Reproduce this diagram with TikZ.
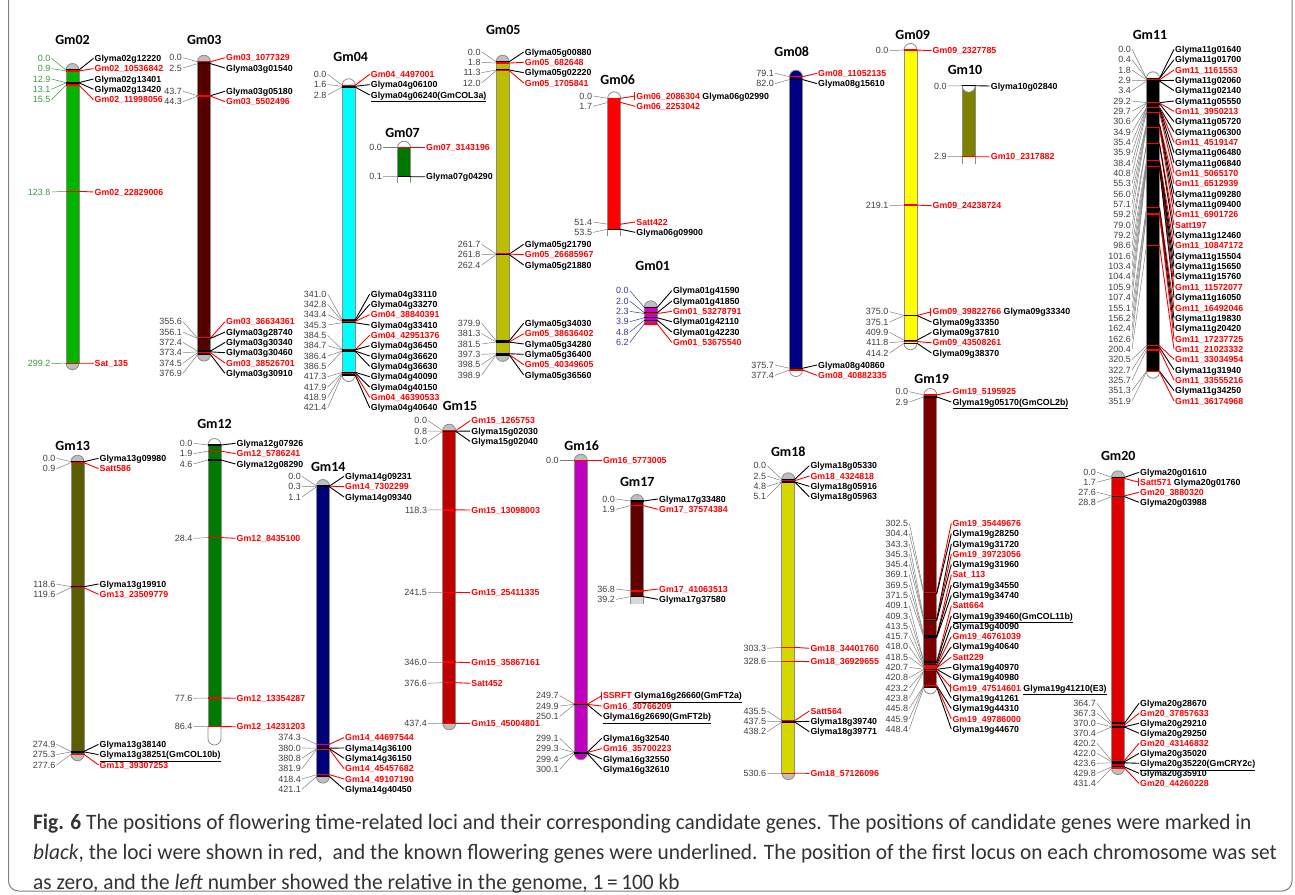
\documentclass[tikz,border=0pt]{standalone}
\usepackage{fontspec}
\setmainfont{Liberation Sans}
\newfontfamily\labfont{Liberation Sans}
\newfontfamily\ttlfont{Carlito}
\newfontfamily\capfont[FakeStretch=0.97]{Carlito}
\definecolor{numc}{HTML}{404040}
\definecolor{numl}{HTML}{808080}
\definecolor{outl}{HTML}{8C8C8C}
\definecolor{capg}{HTML}{BEBEBE}
\definecolor{gnum}{HTML}{3C9A3C}
\definecolor{bnum}{HTML}{3A3A9A}
\definecolor{capt}{HTML}{333333}
\definecolor{lgr}{HTML}{D8D8D8}
\definecolor{c01}{HTML}{CC00CC}
\definecolor{c02}{HTML}{00B400}
\definecolor{c03}{HTML}{550000}
\definecolor{c04}{HTML}{00FFFF}
\definecolor{c05}{HTML}{BDBD00}
\definecolor{c06}{HTML}{FF0000}
\definecolor{c07}{HTML}{007800}
\definecolor{c08}{HTML}{000080}
\definecolor{c09}{HTML}{FFFF00}
\definecolor{c10}{HTML}{808000}
\definecolor{c11}{HTML}{000000}
\definecolor{c12}{HTML}{007A00}
\definecolor{c13}{HTML}{5C5C00}
\definecolor{c14}{HTML}{000078}
\definecolor{c15}{HTML}{BF0000}
\definecolor{c16}{HTML}{C000C0}
\definecolor{c17}{HTML}{600000}
\definecolor{c18}{HTML}{D6D600}
\definecolor{c19}{HTML}{780000}
\definecolor{c20}{HTML}{DD0000}
\newcommand\numf{\labfont\fontsize{9}{10}\selectfont}
\newcommand\genf{\labfont\bfseries\fontsize{8.8}{10}\selectfont}
\tikzset{
  num/.style={font=\numf, inner xsep=1pt, inner ysep=0pt, text height=6.4pt, text depth=0pt, anchor=east},
  gene/.style={font=\genf, inner xsep=1pt, inner ysep=0pt, text height=6.4pt, text depth=0pt, anchor=west},
  numline/.style={line width=0.5pt},
  gline/.style={line width=0.9pt},
  mline/.style={line width=1.4pt},
  chr/.style={draw=outl, line width=0.8pt},
  ttl/.style={font=\ttlfont\bfseries\fontsize{14}{16}\selectfont, inner sep=0pt},
  capn/.style={font=\capfont\fontsize{22}{26}\selectfont, text=capt, inner sep=0pt, anchor=base west},
}
\newcounter{mk}
\def\hw{6.5}
\def\lstep{10.34}
\def\numcol{numc}\def\numln{numl}
\newcommand\chrom[3]{\def\cx{#1}\def\yz{#2}\def\sc{#3}}
\newcommand\setly[1]{\gdef\ly{#1}}
\newcommand\mk[3]{%
  \stepcounter{mk}%
  \node[num, text=\numcol] (L\themk) at (\cx-21,\ly) {#1};
  \node[gene, text=#2] (R\themk) at (\cx+21,\ly) {#3};
  \coordinate (ML\themk) at (\cx-\hw,{\yz+\sc*(#1)});
  \coordinate (MR\themk) at (\cx+\hw,{\yz+\sc*(#1)});
  \draw[numline, draw=\numln] (L\themk.east) -- (ML\themk);
  \draw[gline, draw=#2] (MR\themk) -- (R\themk.west);
  \draw[mline, draw=#2] (ML\themk) -- (MR\themk);
  \pgfmathsetmacro\tmpy{\ly+\lstep}\global\let\ly\tmpy
}
\newcommand\mkt[3]{%
  \draw[gline, draw=#2] (\cx+20.3,\ly-4) -- (\cx+20.3,\ly+4);
  \mk{#1}{#2}{#3}}
\newcommand\chbody[3]{\filldraw[chr, fill=#3] (\cx-\hw,#1) rectangle (\cx+\hw,#2);}
\newcommand\tcap[2]{\filldraw[chr, fill=#2] (\cx-\hw,#1) arc (180:360:\hw) -- cycle;}
\newcommand\bcap[2]{\filldraw[chr, fill=#2] (\cx-\hw,#1) arc (180:0:\hw) -- cycle;}
\newcommand\opend[2]{\draw[chr] (\cx-\hw,#1) -- (\cx-\hw,#2) (\cx+\hw,#1) -- (\cx+\hw,#2);}
\newcommand\kk[1]{\textcolor{black}{#1}}
\begin{document}
\begin{tikzpicture}[x=1pt,y=-1pt]
\useasboundingbox (0,0) rectangle (1295,894);
\fill[white] (0,0) rectangle (1295,894);
\begin{scope}
\clip (0,0) rectangle (1295,894);
\draw[draw=gray, line width=1pt, rounded corners=10pt] (8.5,-20) rectangle (1292,891);
\end{scope}

% ---------------- Gm02
\chrom{72.5}{70}{0.98}\def\numcol{gnum}\def\numln{gnum}
\node[ttl] (T02) at (72.5,40) {Gm02};
\tcap{70}{capg}\bcap{363.2}{capg}\chbody{70}{363.2}{c02}
\setly{58.3}
\mk{0.0}{black}{Glyma02g12220}
\mk{0.9}{red}{Gm02\_10536842}
\mk{12.9}{black}{Glyma02g13401}
\mk{13.1}{black}{Glyma02g13420}
\mk{15.5}{red}{Gm02\_11998056}
\setly{192}\mk{123.8}{red}{Gm02\_22829006}
\setly{363.3}\mk{299.2}{red}{Sat\_135}
\def\numcol{numc}\def\numln{numl}

% ---------------- Gm03
\chrom{204}{61.7}{0.777}
\node[ttl] (T03) at (204.3,40) {Gm03};
\tcap{61.7}{capg}\bcap{354.6}{capg}\chbody{61.7}{354.6}{c03}
\setly{57.7}
\mk{0.0}{red}{Gm03\_1077329}
\mk{2.5}{black}{Glyma03g01540}
\setly{91.3}
\mk{43.7}{black}{Glyma03g05180}
\mk{44.3}{red}{Gm03\_5502496}
\setly{321.7}
\mk{355.6}{red}{Gm03\_36634361}
\mk{356.1}{black}{Glyma03g28740}
\mk{372.4}{black}{Glyma03g30340}
\mk{373.4}{black}{Glyma03g30460}
\mk{374.5}{red}{Gm03\_38526701}
\mk{376.9}{black}{Glyma03g30910}

% ---------------- Gm04
\chrom{348.7}{85.2}{0.688}
\node[ttl] (T04) at (350.7,56.7) {Gm04};
\tcap{85.2}{white}\bcap{375.1}{white}\chbody{85.2}{375.1}{c04}
\setly{74.3}
\mk{0.0}{red}{Gm04\_4497001}
\mk{1.6}{black}{Glyma04g06100}
\mk{2.8}{black}{\underline{Glyma04g06240(GmCOL3a)}}
\setly{294}
\mk{341.0}{black}{Glyma04g33110}
\mk{342.8}{black}{Glyma04g33270}
\mk{343.4}{red}{Gm04\_38840391}
\mk{345.3}{black}{Glyma04g33410}
\mk{384.5}{red}{Gm04\_42951376}
\mk{384.7}{black}{Glyma04g36450}
\mk{386.4}{black}{Glyma04g36620}
\mk{386.5}{black}{Glyma04g36630}
\mk{417.3}{black}{Glyma04g40090}
\mk{417.9}{black}{Glyma04g40150}
\mk{418.9}{red}{Gm04\_46390533}
\mk{421.4}{black}{Glyma04g40640}

% ---------------- Gm07
\chrom{404}{147.7}{290}
\node[ttl] (T07) at (402.5,132.7) {Gm07};
\tcap{147.7}{white}\chbody{147.7}{176.7}{c07}\opend{176.7}{183.3}
\setly{147.7}\mk{0.0}{red}{Gm07\_3143196}
\setly{176.7}\mk{0.1}{black}{Glyma07g04290}

% ---------------- Gm05
\chrom{502.7}{61.7}{0.735}
\node[ttl] (T05) at (503.3,30) {Gm05};
\tcap{61.7}{capg}\bcap{354.9}{capg}\chbody{61.7}{354.9}{c05}
\setly{52}
\mk{0.0}{black}{Glyma05g00880}
\mk{1.8}{red}{Gm05\_682648}
\mk{11.3}{black}{Glyma05g02220}
\mk{12.0}{red}{Gm05\_1705841}
\setly{244.3}
\mk{261.7}{black}{Glyma05g21790}
\mk{261.8}{red}{Gm05\_26685967}
\mk{262.4}{black}{Glyma05g21880}
\setly{323.3}
\mk{379.9}{black}{Glyma05g34030}
\mk{381.3}{red}{Gm05\_38636402}
\mk{381.5}{black}{Glyma05g34280}
\mk{397.3}{black}{Glyma05g36400}
\mk{398.5}{red}{Gm05\_40349605}
\mk{398.9}{black}{Glyma05g36560}

% ---------------- Gm06
\chrom{614.2}{98.3}{2.449}
\node[ttl] (T06) at (617.7,80) {Gm06};
\tcap{98.3}{white}\chbody{98.3}{229.3}{c06}\opend{229.3}{236}
\setly{96}
\mkt{0.0}{red}{Gm06\_2086304 \kk{Glyma06g02990}}
\mk{1.7}{red}{Gm06\_2253042}
\setly{222}
\mk{51.4}{red}{Satt422}
\mk{53.5}{black}{Glyma06g09900}

% ---------------- Gm01
\chrom{650.8}{307.3}{2.69}\def\numcol{bnum}\def\numln{bnum}
\node[ttl] (T01) at (652.7,266) {Gm01};
\tcap{307.3}{capg}\chbody{307.3}{324}{c01}
\setly{290.7}
\mk{0.0}{black}{Glyma01g41590}
\mk{2.0}{black}{Glyma01g41850}
\mk{2.3}{red}{Gm01\_53278791}
\mk{3.9}{black}{Glyma01g42110}
\mk{4.8}{black}{Glyma01g42230}
\mk{6.2}{red}{Gm01\_53675540}
\def\numcol{numc}\def\numln{numl}

% ---------------- Gm08
\chrom{796}{-1.06}{0.983}
\node[ttl] (T08) at (791.7,51.7) {Gm08};
\tcap{76.7}{c08}\bcap{370}{white}\chbody{76.7}{370}{c08}
\setly{73.3}
\mk{79.1}{red}{Gm08\_11052135}
\mk{82.0}{black}{Glyma08g15610}
\setly{365}
\mk{375.7}{black}{Glyma08g40860}
\mk{377.4}{red}{Gm08\_40882335}

% ---------------- Gm09
\chrom{910.5}{50}{0.708}
\node[ttl] (T09) at (912.7,35) {Gm09};
\tcap{50}{white}\bcap{343.3}{white}\chbody{50}{343.3}{c09}
\setly{50.7}\mk{0.0}{red}{Gm09\_2327785}
\setly{205.7}\mk{219.1}{red}{Gm09\_24238724}
\setly{311.7}
\mkt{375.0}{red}{Gm09\_39822766 \kk{Glyma09g33340}}
\mk{375.1}{black}{Glyma09g33350}
\mk{409.9}{black}{Glyma09g37810}
\mk{411.8}{red}{Gm09\_43508261}
\mk{414.2}{black}{Glyma09g38370}

% ---------------- Gm10
\chrom{968.7}{85.7}{24.5}
\node[ttl] (T10) at (965,70) {Gm10};
\chbody{85.7}{156.75}{c10}\opend{156.75}{164}
\filldraw[chr, fill=white] (\cx-\hw,85.7) arc (180:0:\hw) -- cycle;
\setly{86}\mk{0.0}{black}{Glyma10g02840}
\setly{156.7}\mk{2.9}{red}{Gm10\_2317882}

% ---------------- Gm11
\chrom{1153}{78.3}{0.834}
\node[ttl] (T11) at (1150,35) {Gm11};
\tcap{78.3}{white}\bcap{371.8}{white}\chbody{78.3}{371.8}{c11}
\setly{49.3}
\mk{0.0}{black}{Glyma11g01640}
\mk{0.4}{black}{Glyma11g01700}
\mk{1.8}{red}{Gm11\_1161553}
\mk{2.9}{black}{Glyma11g02060}
\mk{3.4}{black}{Glyma11g02140}
\mk{29.2}{black}{Glyma11g05550}
\mk{29.7}{red}{Gm11\_3950213}
\mk{30.6}{black}{Glyma11g05720}
\mk{34.9}{black}{Glyma11g06300}
\mk{35.4}{red}{Gm11\_4519147}
\mk{35.9}{black}{Glyma11g06480}
\mk{38.4}{black}{Glyma11g06840}
\mk{40.8}{red}{Gm11\_5065170}
\mk{55.3}{red}{Gm11\_6512939}
\mk{56.0}{black}{Glyma11g09280}
\mk{57.1}{black}{Glyma11g09400}
\mk{59.2}{red}{Gm11\_6901726}
\mk{79.0}{red}{Satt197}
\mk{79.2}{black}{Glyma11g12460}
\mk{98.6}{red}{Gm11\_10847172}
\mk{101.6}{black}{Glyma11g15504}
\mk{103.4}{black}{Glyma11g15650}
\mk{104.4}{black}{Glyma11g15760}
\mk{105.9}{red}{Gm11\_11572077}
\mk{107.4}{black}{Glyma11g16050}
\mk{155.1}{red}{Gm11\_16492046}
\mk{156.2}{black}{Glyma11g19830}
\mk{162.4}{black}{Glyma11g20420}
\mk{162.6}{red}{Gm11\_17237725}
\mk{200.4}{red}{Gm11\_21023332}
\mk{320.5}{red}{Gm11\_33034954}
\mk{322.7}{black}{Glyma11g31940}
\mk{325.7}{red}{Gm11\_33555216}
\mk{351.3}{black}{Glyma11g34250}
\mk{351.9}{red}{Gm11\_36174968}

% ---------------- Gm13
\chrom{77.5}{461.7}{1.054}
\node[ttl] (T13) at (72.7,446) {Gm13};
\tcap{461.7}{capg}\bcap{754.3}{capg}\chbody{461.7}{754.3}{c13}
\setly{458.3}
\mk{0.0}{black}{Glyma13g09980}
\mk{0.9}{red}{Satt586}
\setly{584}
\mk{118.6}{black}{Glyma13g19910}
\mk{119.6}{red}{Gm13\_23509779}
\setly{744.3}
\mk{274.9}{black}{Glyma13g38140}
\mk{275.3}{black}{\underline{Glyma13g38251(GmCOL10b)}}
\mk{277.6}{red}{Gm13\_39307253}

% ---------------- Gm12
\chrom{214.5}{445}{3.26}
\node[ttl] (T12) at (214.5,424) {Gm12};
\tcap{445}{white}
\filldraw[chr, fill=white] (\cx-\hw,726.7) -- (\cx-\hw,738.5) arc (180:0:\hw) -- (\cx+\hw,726.7);
\chbody{445}{726.7}{c12}
\setly{443.3}
\mk{0.0}{black}{Glyma12g07926}
\mk{1.9}{red}{Gm12\_5786241}
\mk{4.6}{black}{Glyma12g08290}
\setly{538.3}\mk{28.4}{red}{Gm12\_8435100}
\setly{698.3}\mk{77.6}{red}{Gm12\_13354287}
\setly{726.7}\mk{86.4}{red}{Gm12\_14231203}

% ---------------- Gm14
\chrom{323}{486}{0.69}
\node[ttl] (T14) at (328.3,466.7) {Gm14};
\tcap{486}{capg}\bcap{776.6}{capg}\chbody{486}{776.6}{c14}
\setly{476.3}
\mk{0.0}{black}{Glyma14g09231}
\mk{0.3}{red}{Gm14\_7302299}
\mk{1.1}{black}{Glyma14g09340}
\setly{737.6}
\mk{374.3}{red}{Gm14\_44697544}
\mk{380.0}{black}{Glyma14g36100}
\mk{380.8}{black}{Glyma14g36150}
\mk{381.9}{red}{Gm14\_45457682}
\mk{418.4}{red}{Gm14\_49107190}
\mk{421.1}{black}{Glyma14g40450}

% ---------------- Gm15
\chrom{449.2}{430.7}{0.669}
\node[ttl] (T15) at (460,406) {Gm15};
\tcap{430.7}{capg}\bcap{723.3}{capg}\chbody{430.7}{723.3}{c15}
\setly{420.7}
\mk{0.0}{red}{Gm15\_1265753}
\mk{0.8}{black}{Glyma15g02030}
\mk{1.0}{black}{Glyma15g02040}
\setly{510}\mk{118.3}{red}{Gm15\_13098003}
\setly{592.7}\mk{241.5}{red}{Gm15\_25411335}
\setly{662.7}\mk{346.0}{red}{Gm15\_35867161}
\setly{683.3}\mk{376.6}{red}{Satt452}
\setly{723.3}\mk{437.4}{red}{Gm15\_45004801}

% ---------------- Gm16
\chrom{580.8}{460.7}{0.975}
\node[ttl] (T16) at (581.7,446) {Gm16};
\tcap{460.7}{capg}\bcap{753.3}{c16}\chbody{460.7}{753.3}{c16}
\setly{460.7}\mk{0.0}{red}{Gm16\_5773005}
\setly{695.7}
\mkt{249.7}{red}{SSRFT \kk{\underline{Glyma16g26660(GmFT2a)}}}
\mk{249.9}{red}{Gm16\_30766209}
\mk{250.1}{black}{\underline{Glyma16g26690(GmFT2b)}}
\setly{738.3}
\mk{299.1}{black}{Glyma16g32540}
\mk{299.3}{red}{Gm16\_35700223}
\mk{299.4}{black}{Glyma16g32550}
\mk{300.1}{black}{Glyma16g32610}

% ---------------- Gm17
\chrom{637}{501}{2.44}
\node[ttl] (T17) at (637.3,482.3) {Gm17};
\fill[lgr] (\cx-\hw,596.7) rectangle (\cx+\hw,604.3);
\opend{596.7}{604.3}
\tcap{501}{capg}\chbody{501}{596.7}{c17}
\setly{499}
\mk{0.0}{black}{Glyma17g33480}
\mk{1.9}{red}{Gm17\_37574384}
\setly{589}
\mk{36.8}{red}{Gm17\_41063513}
\mk{39.2}{black}{Glyma17g37580}

% ---------------- Gm18
\chrom{788.3}{479.3}{0.554}
\node[ttl] (T18) at (788.3,451.7) {Gm18};
\tcap{479.3}{capg}\bcap{773.2}{capg}\chbody{479.3}{773.2}{c18}
\setly{465.7}
\mk{0.0}{black}{Glyma18g05330}
\mk{2.5}{red}{Gm18\_4324818}
\mk{4.8}{black}{Glyma18g05916}
\mk{5.1}{black}{Glyma18g05963}
\setly{648.3}\mk{303.3}{red}{Gm18\_34401760}
\setly{661.7}\mk{328.6}{red}{Gm18\_36929655}
\setly{711}
\mk{435.5}{red}{Satt564}
\mk{437.5}{black}{Glyma18g39740}
\mk{438.2}{black}{Glyma18g39771}
\setly{773.3}\mk{530.6}{red}{Gm18\_57126096}

% ---------------- Gm19
\chrom{930.3}{395}{0.652}
\node[ttl] (T19) at (931.7,379.3) {Gm19};
\tcap{395}{white}\bcap{687.4}{white}\chbody{395}{687.4}{c19}
\setly{391.7}
\mk{0.0}{red}{Gm19\_5195925}
\mk{2.9}{black}{\underline{Glyma19g05170(GmCOL2b)}}
\def\lstep{10.29}
\setly{523.3}
\mk{302.5}{red}{Gm19\_35449676}
\mk{304.4}{black}{Glyma19g28250}
\mk{343.3}{black}{Glyma19g31720}
\mk{345.3}{red}{Gm19\_39723056}
\mk{345.4}{black}{Glyma19g31960}
\mk{369.1}{red}{Sat\_113}
\mk{369.5}{black}{Glyma19g34550}
\mk{371.5}{black}{Glyma19g34740}
\mk{409.1}{red}{Satt664}
\mk{409.3}{black}{\underline{Glyma19g39460(GmCOL11b)}}
\mk{413.5}{black}{Glyma19g40090}
\mk{415.7}{red}{Gm19\_46761039}
\mk{418.0}{black}{Glyma19g40640}
\mk{418.5}{red}{Satt229}
\mk{420.7}{black}{Glyma19g40970}
\mk{420.8}{black}{Glyma19g40980}
\mkt{423.2}{red}{Gm19\_47514601 \kk{\underline{Glyma19g41210(E3)}}}
\mk{423.8}{black}{Glyma19g41261}
\mk{445.8}{black}{Glyma19g44310}
\mk{445.9}{red}{Gm19\_49786000}
\mk{448.4}{black}{Glyma19g44670}

% ---------------- Gm20
\chrom{1118}{477.3}{0.674}
\def\lstep{10.0}
\node[ttl] (T20) at (1118.3,456) {Gm20};
\tcap{477.3}{capg}\bcap{768.1}{capg}\chbody{477.3}{768.1}{c20}
\setly{472.3}
\mk{0.0}{black}{Glyma20g01610}
\mkt{1.7}{red}{Satt571 \kk{Glyma20g01760}}
\mk{27.6}{red}{Gm20\_3880320}
\mk{28.8}{black}{Glyma20g03988}
\setly{703.3}
\mk{364.7}{black}{Glyma20g28670}
\mk{367.3}{red}{Gm20\_37857633}
\mk{370.0}{black}{Glyma20g29210}
\mk{370.4}{black}{Glyma20g29250}
\mk{420.2}{red}{Gm20\_43146832}
\mk{422.0}{black}{Glyma20g35020}
\mk{423.6}{black}{\underline{Glyma20g35220(GmCRY2c)}}
\mk{429.8}{black}{Glyma20g35910}
\mk{431.4}{red}{Gm20\_44260228}

% ---------------- caption
\node[capn] (cap1) at (33,829) {\textbf{Fig. 6} The positions of flowering time-related loci and their corresponding candidate genes. The positions of candidate genes were marked in};
\node[capn] (cap2) at (33,859) {\textit{black}, the loci were shown in red,\ \ and the known flowering genes were underlined. The position of the first locus on each chromosome was set};
\node[capn] (cap3) at (33,889) {as zero, and the \textit{left} number showed the relative in the genome, 1\,=\,100 kb};
\end{tikzpicture}
\end{document}
